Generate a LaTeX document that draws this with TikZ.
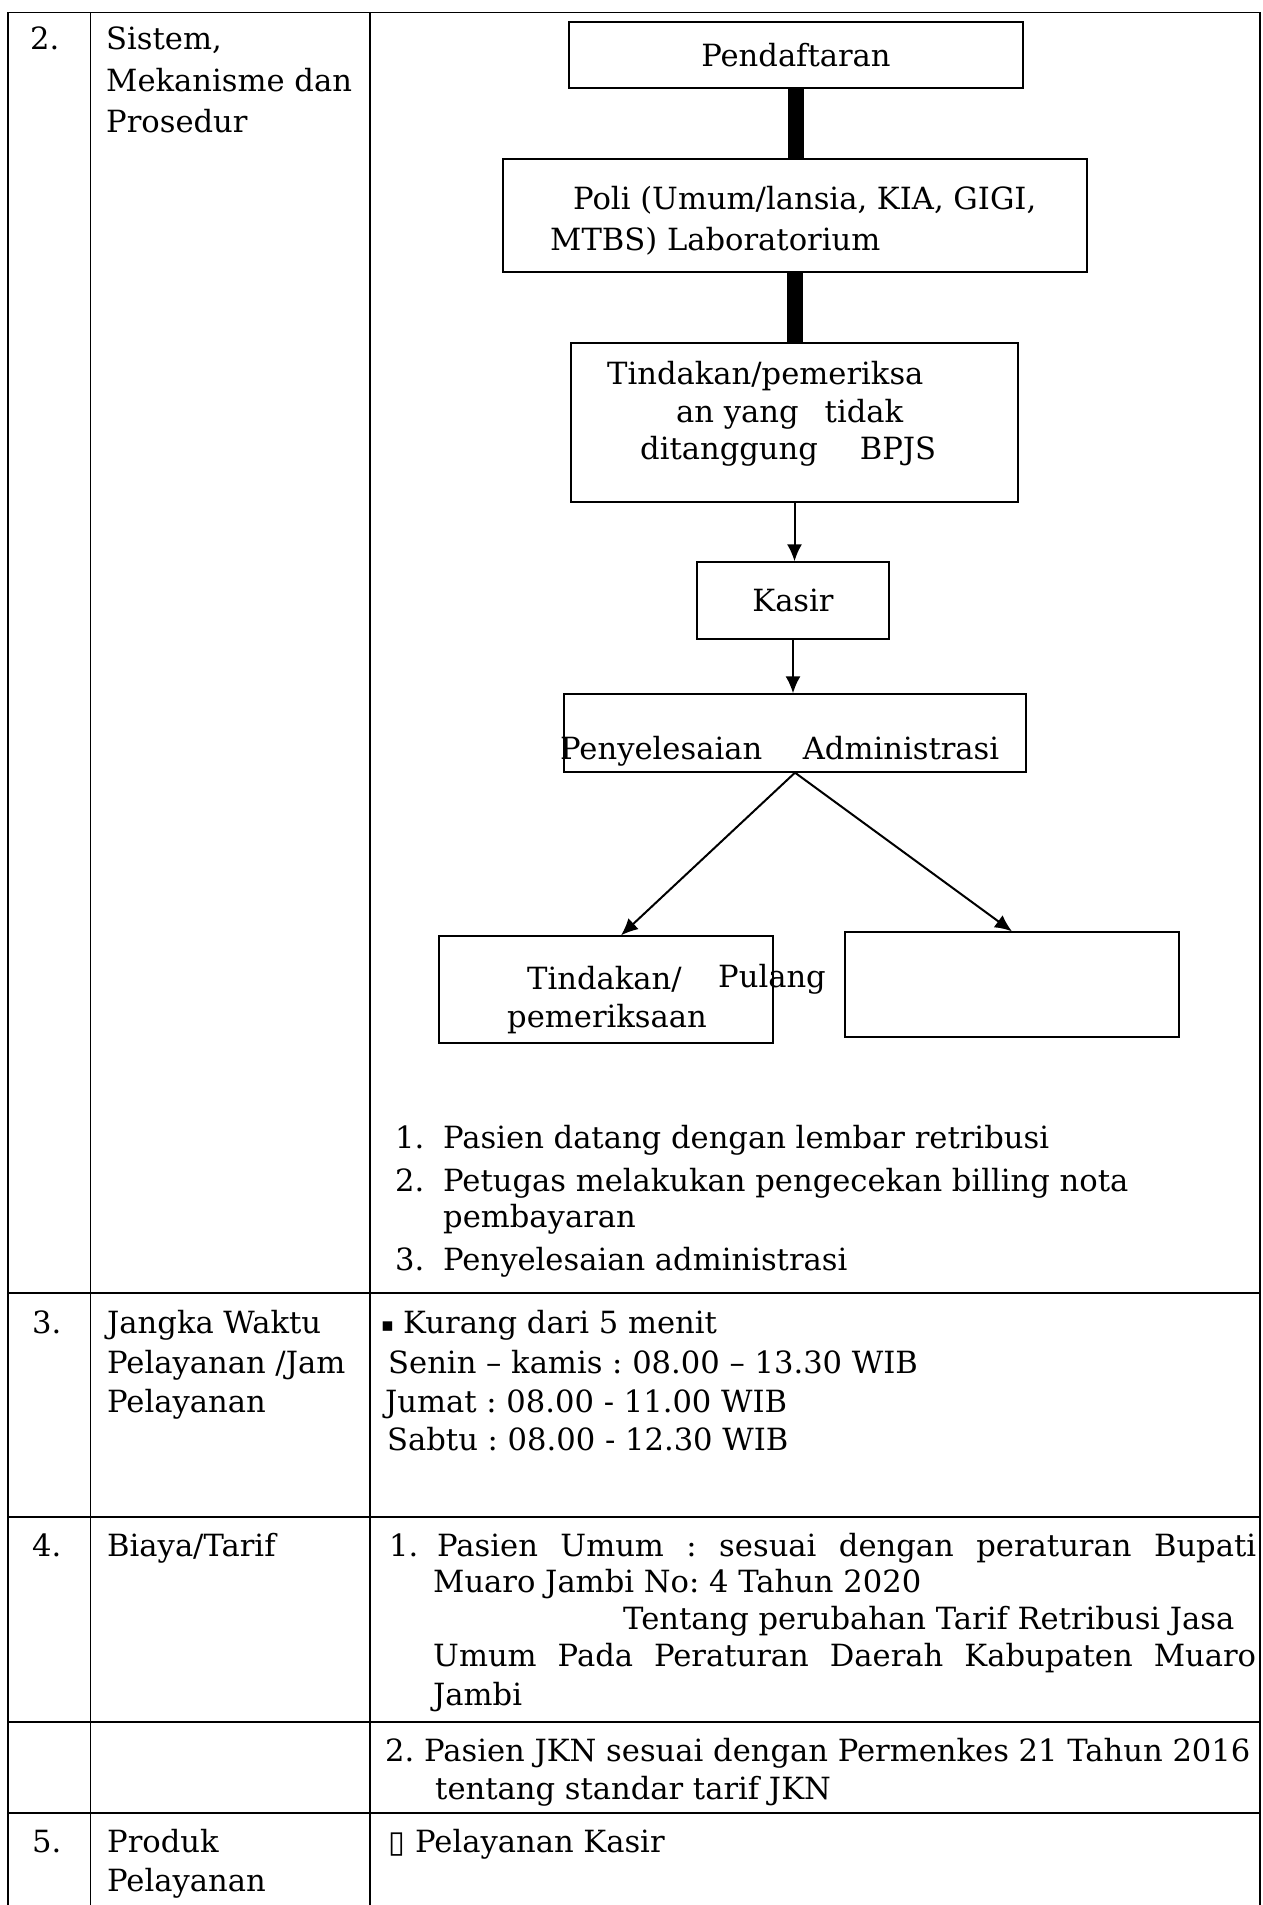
\documentclass[tikz,border=0pt]{standalone}
\usepackage{fontspec}
\setmainfont{DejaVu Serif}
\newfontfamily\symb{DejaVu Sans}
\usetikzlibrary{arrows.meta}
\newcommand{\body}{\fontsize{30.6}{36}\selectfont\frenchspacing}

\begin{document}
\begin{tikzpicture}[x=1pt, y=-1pt, font=\body,
		box/.style={draw, line width=1.3pt, inner sep=0pt},
		thickbox/.style={box, line width=2.4pt},
		txt/.style={anchor=base west, inner sep=0pt},
		flow/.style={line width=2pt, -{Latex[length=17pt, width=15pt]}},
		bar/.style={line width=16pt},
		rule/.style={line width=1.3pt}]
	\useasboundingbox (0,0) rectangle (1262,1905);

	\draw [rule] (8,1905) -- (8,12.3) -- (1260,12.3) -- (1260,1905);
	\draw [rule] (90.7,12.3) -- (90.7,1905);
	\draw [rule] (370,12.3) -- (370,1905);
	\foreach \y in {1293, 1517, 1722, 1813}
		\draw [rule] (8,\y) -- (1260,\y);

	\node (no2) at (30,50) [txt] {2.};
	\node (no3) at (32,1333) [txt] {3.};
	\node (no4) at (32,1556) [txt] {4.};
	\node (no5) at (32,1852) [txt] {5.};

	\foreach \t [count=\i from 0] in {{Sistem,}, {Mekanisme dan}, {Prosedur}}
		\node (sys\i) at (106,50+41.5*\i) [txt] {\t};
	\node (jk1) at (107,1333) [txt] {Jangka Waktu};
	\node (jk2) at (107,1373) [txt] {Pelayanan /Jam};
	\node (jk3) at (107,1412) [txt] {Pelayanan};
	\node (by) at (107,1556) [txt] {Biaya/Tarif};
	\node (pr1) at (107,1852) [txt] {Produk};
	\node (pr2) at (107,1891) [txt] {Pelayanan};

	\node (daftar) at (796,55) 
		[thickbox, minimum width=454pt, minimum height=66pt] {Pendaftaran};
	\node (poli) at (795,215.5) 
		[thickbox, minimum width=584pt, minimum height=113pt] {};
	\node (tindakan) at (794.5,422.5) 
		[box, minimum width=447pt, minimum height=159pt] {};
	\node (kasir) at (793,600.5) 
		[box, minimum width=192pt, minimum height=77pt] {Kasir};
	\node (selesai) at (795,733) 
		[box, minimum width=462pt, minimum height=78pt] {};
	\node (periksa) at (606,989.5) 
		[box, minimum width=334pt, minimum height=107pt] {};
	\node (pulangbox) at (1012,984.5) 
		[box, minimum width=334pt, minimum height=105pt] {};

	\node (poli1) at (573,210) [txt] {Poli (Umum/lansia, KIA, GIGI,};
	\node (poli2) at (550,250) [txt] {MTBS) Laboratorium};
	\node (tind1) at (607,384) [txt] {Tindakan/pemeriksa};
	\node (tind2) at (676,422) [txt] {\makebox[227pt][l]{an yang\hfill tidak}};
	\node (tind3) at (640,459) [txt] {\makebox[296pt][s]{ditanggung BPJS}};
	\node (selesai1) at (560,759) [txt] 
		{\makebox[439pt][s]{Penyelesaian Administrasi}};
	\node (periksa1) at (527,989) [txt] {Tindakan/};
	\node (periksa2) at (507,1027) [txt] {pemeriksaan};
	\node (pulang) at (718,987) [txt] {Pulang};

	\draw [bar] (daftar.south) -- (daftar.south |- poli.north);
	\draw [bar] (poli.south) -- (poli.south |- tindakan.north);
	\draw [flow] (tindakan.south) -- (tindakan.south |- kasir.north);
	\draw [flow] (kasir.south) -- (kasir.south |- selesai.north);
	\draw [flow] (selesai.south) -- ([xshift=15pt]periksa.north);
	\draw [flow] (selesai.south) -- (pulangbox.north);

	\node (l1n) at (395,1148) [txt] {1.};
	\node (l1) at (443,1148) [txt] {Pasien datang dengan lembar retribusi};
	\node (l2n) at (395,1191) [txt] {2.};
	\node (l2) at (443,1191) [txt] {Petugas melakukan pengecekan billing nota};
	\node (l2b) at (443,1227) [txt] {pembayaran};
	\node (l3n) at (395,1270) [txt] {3.};
	\node (l3) at (443,1270) [txt] {Penyelesaian administrasi};

	\node (dot) at (381,1331) [txt] {\symb\fontsize{19}{19}\selectfont ▪};
	\node (wk1) at (403,1333) [txt] {Kurang dari 5 menit};
	\node (wk2) at (388,1373) [txt] {Senin – kamis : 08.00 – 13.30 WIB};
	\node (wk3) at (385,1412) [txt] {Jumat : 08.00 - 11.00 WIB};
	\node (wk4) at (387,1450) [txt] {Sabtu : 08.00 - 12.30 WIB};

	\node (tf1n) at (389,1556) [txt] {1.};
	\node (tf1) at (437,1556) [txt] 
		{\makebox[819pt][s]{Pasien Umum : sesuai dengan peraturan Bupati}};
	\node (tf2) at (433,1592) [txt] {Muaro Jambi No: 4 Tahun 2020};
	\node (tf3) at (623,1629) [txt] {Tentang perubahan Tarif Retribusi Jasa};
	\node (tf4) at (433,1666) [txt] 
		{\makebox[823pt][s]{Umum Pada Peraturan Daerah Kabupaten Muaro}};
	\node (tf5) at (433,1705) [txt] {Jambi};
	\node (jkn1) at (385,1761) [txt] 
		{2. Pasien JKN sesuai dengan Permenkes 21 Tahun 2016};
	\node (jkn2) at (435,1799) [txt] {tentang standar tarif JKN};

	\node (box5) at (388,1852) [txt] {\symb ▯};
	\node (ksr) at (415,1852) [txt] {Pelayanan Kasir};
\end{tikzpicture}
\end{document}
